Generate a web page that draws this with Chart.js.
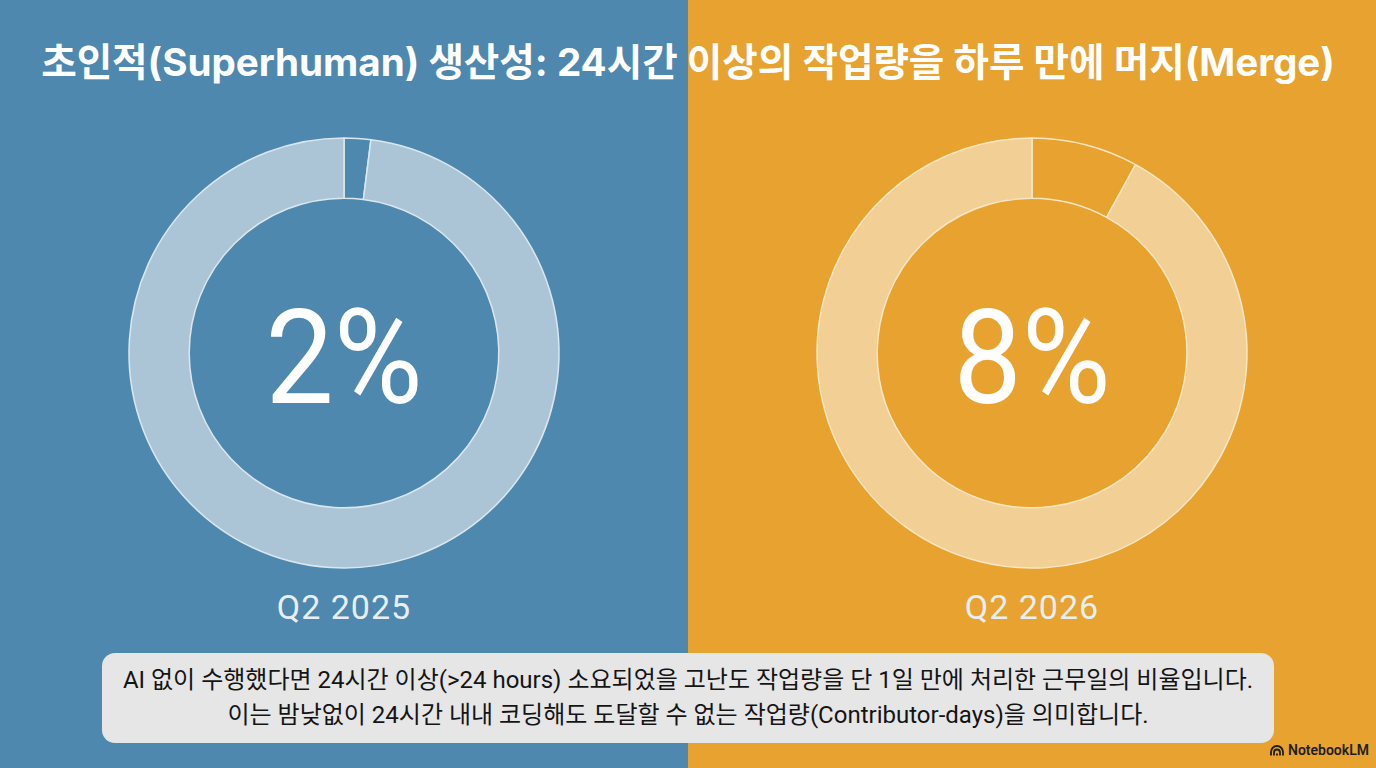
<!DOCTYPE html>
<html lang="ko">
<head>
<meta charset="utf-8">
<script src="https://cdn.jsdelivr.net/npm/chart.js@4"></script>
<style>
  html, body { margin: 0; padding: 0; }
  body {
    width: 1376px; height: 768px; overflow: hidden; position: relative;
    background: linear-gradient(to right, #4e88ae 0, #4e88ae 688px, #e7a22f 688px, #e7a22f 100%);
    font-family: Roboto, Inter, "Noto Sans CJK KR", sans-serif;
  }
  #title {
    position: absolute; left: 0; top: 35px; width: 1376px; text-align: center;
    color: #fff; font-family: Inter, "Noto Sans CJK KR", sans-serif; font-weight: 700;
    font-size: 38.6px; line-height: 54px; white-space: nowrap;
  }
  .ring { position: absolute; width: 440px; height: 440px; }
  .big {
    position: absolute; width: 440px; text-align: center; color: #fff;
    font-family: Roboto, Inter, sans-serif;
    font-size: 132px; font-weight: 400; line-height: 150px;
    transform: scaleX(0.92);
  }
  .period {
    position: absolute; width: 300px; text-align: center; color: #e8eff4;
    font-family: Roboto, Inter, sans-serif;
    font-size: 34px; line-height: 40px; letter-spacing: 1px;
  }
  #note {
    position: absolute; left: 102px; top: 653px; width: 1172px; height: 90px;
    background: #e6e6e6; border-radius: 13px; color: #141414; text-align: center;
    font-family: Roboto, "Noto Sans CJK KR", sans-serif; font-size: 24px; line-height: 35px;
    box-sizing: border-box; padding-top: 10px; white-space: nowrap;
  }
  #brand {
    position: absolute; left: 1270px; top: 742px; color: #1e1e1e;
    font-family: Roboto, Inter, sans-serif; font-weight: 600; font-size: 14px;
    display: flex; align-items: center; gap: 4px;
  }
</style>
</head>
<body>
<div id="title">초인적(Superhuman) 생산성: 24시간 이상의 작업량을 하루 만에 머지(Merge)</div>

<canvas id="ringA" class="ring" width="440" height="440" style="left:124px;top:133px"></canvas>
<canvas id="ringB" class="ring" width="440" height="440" style="left:812px;top:133px"></canvas>

<div id="bigA" class="big" style="left:124px;top:283px"></div>
<div id="bigB" class="big" style="left:812px;top:283px"></div>
<div id="periodA" class="period" style="left:194px;top:587px"></div>
<div id="periodB" class="period" style="left:882px;top:587px"></div>

<div id="note">AI 없이 수행했다면 24시간 이상(&gt;24 hours) 소요되었을 고난도 작업량을 단 1일 만에 처리한 근무일의 비율입니다.<br>이는 밤낮없이 24시간 내내 코딩해도 도달할 수 없는 작업량(Contributor-days)을 의미합니다.</div>
<div id="brand"><svg width="14" height="11" viewBox="0 0 14 11"><path d="M1 10.5V7a6 6 0 0 1 12 0v3.5M4 10.5V7.5a3 3 0 0 1 6 0v3M7 10.5V8.5" fill="none" stroke="#1e1e1e" stroke-width="1.8"/></svg>NotebookLM</div>

<script>
var periods = ["Q2 2025", "Q2 2026"];
var shares = [2, 8];
var sliceLabels = [">24h 작업량 근무일", "기타"];
var baseColors = ["#4e88ae", "#e7a22f"];
var ringColors = ["#abc5d7", "#f2cf95"];
var lineColors = ["#dbe7ef", "#f8e6c2"];

function drawRing(canvasId, i) {
    var ctx = document.getElementById(canvasId);
    return new Chart(ctx, {
        type: "doughnut",
        data: {
            labels: sliceLabels,
            datasets: [{
                data: [shares[i], 100 - shares[i]],
                backgroundColor: [baseColors[i], ringColors[i]],
                borderColor: lineColors[i],
                borderWidth: 1.5,
                hoverOffset: 0
            }]
        },
        options: {
            responsive: false,
            animation: false,
            radius: 215,
            cutout: "72%",
            layout: { padding: 0 },
            plugins: {
                legend: { display: false },
                tooltip: { enabled: false }
            }
        }
    });
}

drawRing("ringA", 0);
drawRing("ringB", 1);

document.getElementById("bigA").textContent = shares[0] + "%";
document.getElementById("bigB").textContent = shares[1] + "%";
document.getElementById("periodA").textContent = periods[0];
document.getElementById("periodB").textContent = periods[1];
</script>
</body>
</html>
